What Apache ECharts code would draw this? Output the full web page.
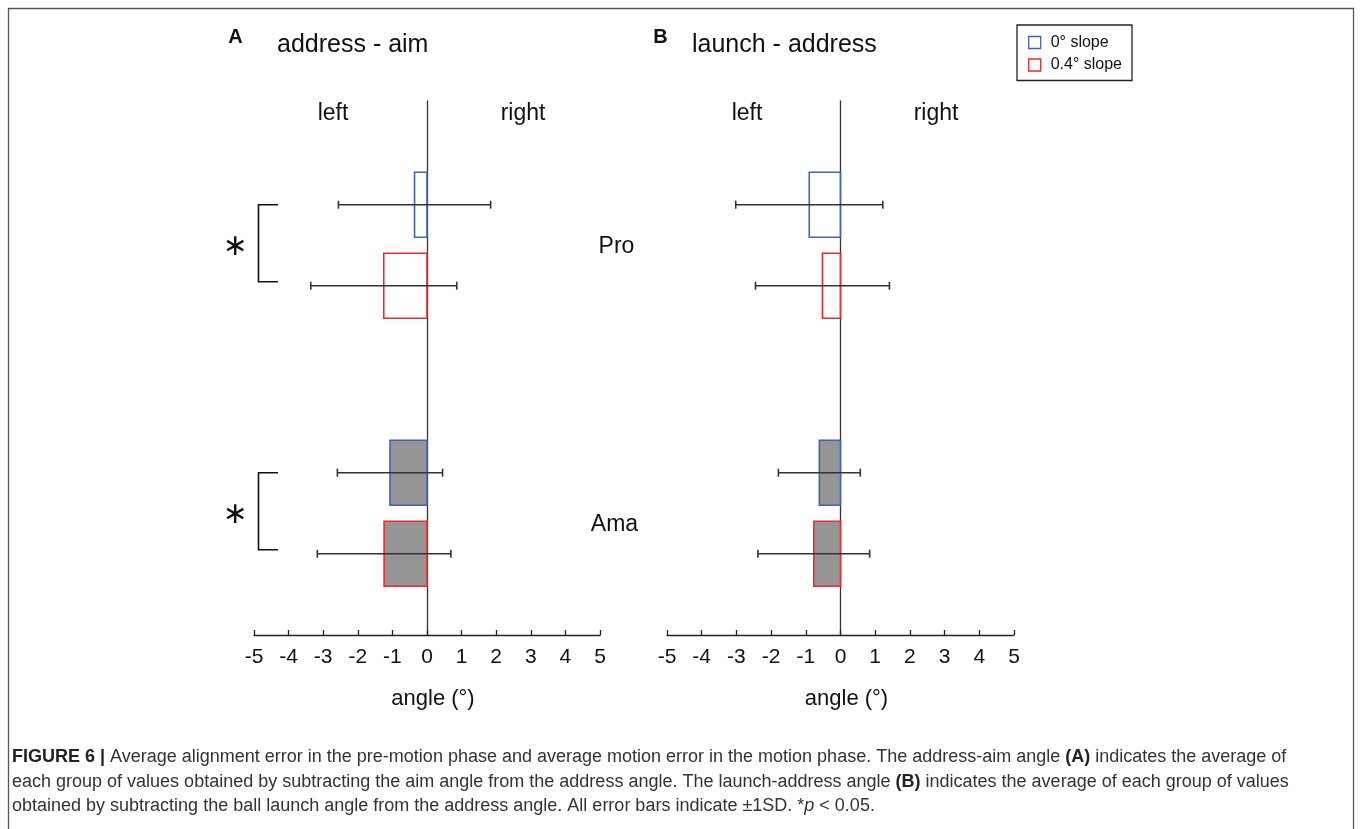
<!DOCTYPE html>
<html>
<head>
<meta charset="utf-8">
<script src="https://cdn.jsdelivr.net/npm/echarts@6/dist/echarts.min.js"></script>
<style>
html,body{margin:0;padding:0;background:#fff;}
#chart{width:1360px;height:829px;}
</style>
</head>
<body>
<div id="chart"></div>
<script>
// ---------------- data ----------------
const groups = ['Pro', 'Ama'];
const slopeNames = ['0° slope', '0.4° slope'];
const panelTitles = ['address - aim', 'launch - address'];
const panelLetters = ['A', 'B'];
const sideLabels = ['left', 'right'];
const xAxisName = 'angle (°)';
// address - aim (panel A): mean and SD per group
const aimMean0  = [-0.36, -1.07];
const aimSD0    = [2.20, 1.52];
const aimMean04 = [-1.25, -1.24];
const aimSD04   = [2.11, 1.93];
// launch - address (panel B)
const launchMean0  = [-0.90, -0.61];
const launchSD0    = [2.12, 1.18];
const launchMean04 = [-0.52, -0.77];
const launchSD04   = [1.93, 1.61];
// significance marks (panel A only)
const sigA = ['*', '*'];
const X_MIN = -5, X_MAX = 5, X_STEP = 1;

// ---------------- style ----------------
const FONT = "'Liberation Sans', Arial, Helvetica, sans-serif";
const BLUE = '#3f66b3';
const RED = '#ee2a2a';
const GRAY = '#959595';
const AXIS = '#222';
const EB = '#333';
const BAR_H = 65;        // px
const PAIR_OFF = 40.5;   // px from group centre
const groupFill = ['rgba(0,0,0,0)', GRAY];
const PX_PER_GROUP = 268;
const GRID_TOP = 101, GRID_H = 534;
const Y_MIN = -(245.2 - GRID_TOP) / PX_PER_GROUP;
const Y_MAX = Y_MIN + GRID_H / PX_PER_GROUP;

const chart = echarts.init(document.getElementById('chart'));

function barSeries(name, idx, means, sds, color, off) {
  return {
    type: 'custom', name: name, xAxisIndex: idx, yAxisIndex: idx, clip: false, z: 3,
    data: means.map((m, i) => [m, i, sds[i]]),
    encode: { x: 0, y: 1 },
    renderItem: function (params, api) {
      const m = api.value(0), gi = api.value(1), sd = api.value(2);
      const z0 = api.coord([0, gi]);
      const e = api.coord([m, gi]);
      const yc = z0[1] + off;
      const lo = api.coord([m - sd, gi])[0];
      const hi = api.coord([m + sd, gi])[0];
      const ls = { stroke: EB, lineWidth: 1.6 };
      return {
        type: 'group',
        children: [
          { type: 'rect', shape: { x: Math.min(z0[0], e[0]), y: yc - BAR_H / 2, width: Math.abs(e[0] - z0[0]), height: BAR_H },
            style: { fill: groupFill[gi], stroke: color, lineWidth: 1.6 } },
          { type: 'line', shape: { x1: lo, y1: yc, x2: hi, y2: yc }, style: ls },
          { type: 'line', shape: { x1: lo, y1: yc - 4, x2: lo, y2: yc + 4 }, style: ls },
          { type: 'line', shape: { x1: hi, y1: yc - 4, x2: hi, y2: yc + 4 }, style: ls }
        ]
      };
    }
  };
}

const sigSeries = {
  type: 'custom', name: 'sig', xAxisIndex: 0, yAxisIndex: 0, clip: false, z: 3,
  data: sigA.map((s, i) => [X_MIN, i]),
  encode: { x: 0, y: 1 },
  renderItem: function (params, api) {
    const gi = api.value(1);
    const c = api.coord([X_MIN, gi]);
    const x1 = c[0] + 4.5, x2 = c[0] + 24;
    const top = c[1] - PAIR_OFF, bot = c[1] + PAIR_OFF - 4;
    return {
      type: 'group',
      children: [
        { type: 'polyline', shape: { points: [[x2, top], [x1, top], [x1, bot], [x2, bot]] },
          style: { stroke: '#111', lineWidth: 1.6, fill: null } },
        { type: 'text', x: c[0] - 19, y: c[1] + 2,
          style: { text: '∗', font: "30px 'DejaVu Sans', sans-serif", fill: '#111', textAlign: 'center', textVerticalAlign: 'middle' } }
      ]
    };
  }
};

function xAxisCfg(idx) {
  return {
    type: 'value', gridIndex: idx, min: X_MIN, max: X_MAX, interval: X_STEP,
    position: 'bottom',
    axisLine: { show: true, onZero: false, lineStyle: { color: AXIS, width: 1.3 } },
    axisTick: { show: true, inside: true, length: 5, lineStyle: { color: AXIS, width: 1.3 } },
    splitLine: { show: false },
    axisLabel: { fontSize: 21, color: '#111', margin: 12, fontFamily: FONT },
    name: xAxisName, nameLocation: 'middle', nameGap: 53,
    nameTextStyle: { fontSize: 22, color: '#111', fontFamily: FONT, padding: [0, 0, 0, 12] }
  };
}
function yAxisCfg(idx) {
  return {
    type: 'value', gridIndex: idx, min: Y_MIN, max: Y_MAX, inverse: true,
    axisLine: { show: true, onZero: true, lineStyle: { color: '#333', width: 1.3 } },
    axisTick: { show: false }, axisLabel: { show: false }, splitLine: { show: false }
  };
}

const txt = (x, y, text, font, extra) => ({
  type: 'text', x: x, y: y,
  style: Object.assign({ text: text, font: font, fill: '#111', textAlign: 'center', textVerticalAlign: 'middle' }, extra || {})
});

const CAP_SIZE = 18;
const captionRich = {
  b: { fontWeight: 'bold', fontSize: CAP_SIZE, fontFamily: FONT, fill: '#222' },
  i: { fontStyle: 'italic', fontSize: CAP_SIZE, fontFamily: FONT, fill: '#333' }
};
const capStyle = (text) => ({ text: text, font: CAP_SIZE + 'px ' + FONT, fill: '#333', textAlign: 'left', textVerticalAlign: 'middle', rich: captionRich });

const option = {
  animation: false,
  backgroundColor: '#fff',
  grid: [
    { left: 254, top: GRID_TOP, width: 346, height: GRID_H },
    { left: 667, top: GRID_TOP, width: 347, height: GRID_H }
  ],
  xAxis: [xAxisCfg(0), xAxisCfg(1)],
  yAxis: [yAxisCfg(0), yAxisCfg(1)],
  legend: {
    data: [
      { name: slopeNames[0], itemStyle: { color: 'rgba(0,0,0,0)', borderColor: BLUE, borderWidth: 1.3 } },
      { name: slopeNames[1], itemStyle: { color: 'rgba(0,0,0,0)', borderColor: RED, borderWidth: 1.3 } }
    ],
    icon: 'rect', orient: 'vertical', left: 1017, top: 25,
    itemWidth: 12, itemHeight: 12, itemGap: 6.5,
    padding: [9.5, 10, 7.5, 11],
    borderColor: '#222', borderWidth: 1.3,
    textStyle: { fontSize: 16, color: '#111', fontFamily: FONT, padding: [0, 0, 0, 5] },
    selectedMode: false
  },
  series: [
    barSeries(slopeNames[0], 0, aimMean0, aimSD0, BLUE, -PAIR_OFF),
    barSeries(slopeNames[1], 0, aimMean04, aimSD04, RED, PAIR_OFF),
    barSeries(slopeNames[0], 1, launchMean0, launchSD0, BLUE, -PAIR_OFF),
    barSeries(slopeNames[1], 1, launchMean04, launchSD04, RED, PAIR_OFF),
    sigSeries
  ],
  graphic: [
    { type: 'rect', shape: { x: 8.5, y: 8.5, width: 1345, height: 840 }, style: { fill: null, stroke: '#555', lineWidth: 1.3 } },
    txt(235.5, 37, panelLetters[0], 'bold 20px ' + FONT),
    txt(277, 45, panelTitles[0], '25px ' + FONT, { textAlign: 'left' }),
    txt(660.5, 37, panelLetters[1], 'bold 20px ' + FONT),
    txt(692, 45, panelTitles[1], '25px ' + FONT, { textAlign: 'left' }),
    txt(333, 114, sideLabels[0], '23px ' + FONT),
    txt(523, 114, sideLabels[1], '23px ' + FONT),
    txt(747, 114, sideLabels[0], '23px ' + FONT),
    txt(936, 114, sideLabels[1], '23px ' + FONT),
    txt(616.5, 247, groups[0], '23px ' + FONT),
    txt(614.5, 525, groups[1], '23px ' + FONT),
    { type: 'text', x: 12, y: 757, style: capStyle('{b|FIGURE 6 |} Average alignment error in the pre-motion phase and average motion error in the motion phase. The address-aim angle {b|(A)} indicates the average of') },
    { type: 'text', x: 12, y: 782, style: capStyle('each group of values obtained by subtracting the aim angle from the address angle. The launch-address angle {b|(B)} indicates the average of each group of values') },
    { type: 'text', x: 12, y: 806, style: capStyle('obtained by subtracting the ball launch angle from the address angle. All error bars indicate ±1SD. *{i|p} < 0.05.') }
  ]
};
chart.setOption(option);
</script>
</body>
</html>
